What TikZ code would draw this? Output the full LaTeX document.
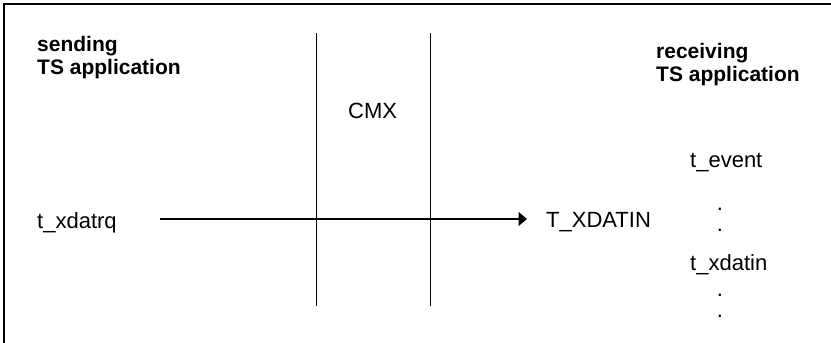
\documentclass[tikz,border=0pt]{standalone}
\usepackage{fontspec}
\setmainfont{Liberation Sans}
\usetikzlibrary{arrows.meta}
\begin{document}
\begin{tikzpicture}[x=1pt,y=-1pt,
  lbl/.style={anchor=base west,inner sep=0pt,font=\fontsize{22}{26}\selectfont},
  role/.style={anchor=base west,inner sep=0pt,align=left,font=\bfseries\fontsize{21}{23}\selectfont},
  dotmark/.style={anchor=base,inner sep=0pt,font=\fontsize{22}{26}\selectfont},
  frame/.style={line width=1.5pt},
  wall/.style={line width=1.2pt},
  msg/.style={line width=1.2pt,-{Triangle[length=8.5pt,width=14pt]}}]
\useasboundingbox (0,0) rectangle (831,343);
\fill[white] (0,0) rectangle (831,343);
% frame (top and left edges)
\coordinate (fTL) at (4,4);
\coordinate (fTR) at (831,4);
\coordinate (fBL) at (4,343);
\draw[frame] (fTR) -- (fTL) -- (fBL);
% headings (base anchor sits on the last line)
\node[role] (snd) at (37,74) {sending\\TS application};
\node[role] (rcv) at (656,81) {receiving\\TS application};
% CMX boundaries
\coordinate (w1t) at (316.5,33);
\coordinate (w1b) at (316.5,306);
\coordinate (w2t) at (430.5,33);
\coordinate (w2b) at (430.5,306);
\draw[wall] (w1t) -- (w1b);
\draw[wall] (w2t) -- (w2b);
\node[lbl] (cmx) at (348,118) {CMX};
% primitive
\node[lbl] (req) at (37,228) {t\_xdatrq};
\node[lbl] (ind) at (546,227) {T\_XDATIN};
\coordinate (mA) at (160,219);
\coordinate (mB) at (527,219);
\draw[msg] (mA) -- (mB);
% events at the receiver
\node[lbl] (ev) at (690,167) {t\_event};
\node[dotmark] (d1) at (720,210) {.};
\node[dotmark] (d2) at (720,231) {.};
\node[lbl] (xd) at (690,270) {t\_xdatin};
\node[dotmark] (d3) at (720,296) {.};
\node[dotmark] (d4) at (720,317) {.};
\end{tikzpicture}
\end{document}
